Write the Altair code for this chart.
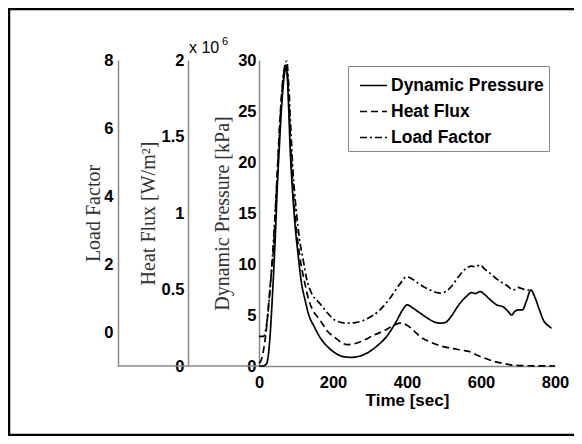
import altair as alt
import pandas as pd

# ---- data ----
dp_time = [0,10,20,25,30,35,40,45,50,55,60,65,70,73,76,80,84,90,97,106,115,125,133,150,165,185,205,230,250,270,
           291,320,345,370,390,400,415,435,455,475,490,505,520,540,560,575,585,597,610,625,642,660,672,683,690,700,
           712,722,735,745,758,770,780,791]
dp_kpa = [0,0,0.2,1.0,3.0,6.0,9.5,13.5,18,21.5,24.8,27.3,28.9,29.2,28.6,25.5,21.5,17.5,14,10.8,8.1,6.4,5.2,3.8,2.8,
          1.9,1.3,0.9,0.85,0.95,1.25,2.0,2.9,4.3,5.6,6.0,5.7,5.2,4.7,4.3,4.2,4.3,4.9,6.0,6.8,7.2,7.1,7.3,7.0,6.5,6.0,
          5.8,5.4,5.0,5.3,5.5,5.5,6.3,7.45,6.8,5.5,4.4,4.0,3.7]

hf_time = [0,5,10,15,20,27,33,39,48,57,65,72,76,80,85,92,100,110,124,135,145,165,185,205,237,260,285,309,340,360,
           381,400,420,435,460,489,525,550,570,590,615,640,660,680,705,750,800]
hf_e6 = [0.02,0.033,0.073,0.147,0.24,0.433,0.6,0.76,1.2,1.627,1.867,1.967,1.933,1.767,1.467,1.167,0.92,0.72,0.54,
         0.427,0.367,0.3,0.227,0.187,0.14,0.147,0.17,0.2,0.233,0.26,0.28,0.267,0.227,0.193,0.16,0.133,0.113,0.103,
         0.093,0.07,0.047,0.027,0.017,0.007,0.003,0.001,0.0]

lf_time = [0,12,18,25,30,36,42,50,57,63,70,75,80,85,92,100,110,120,129,140,165,190,205,237,260,290,327,355,380,399,
           415,435,460,489,505,520,540,561,575,585,597,610,624,651,670,687,700,710,723,735]
lf_g = [-0.13,-0.13,0.05,0.65,1.25,2.15,3.2,4.7,6.2,7.25,7.85,7.97,7.34,6.2,4.7,3.65,2.69,2.09,1.55,1.19,0.83,0.5,
        0.35,0.26,0.275,0.38,0.65,1.01,1.4,1.625,1.55,1.4,1.25,1.145,1.19,1.34,1.64,1.88,1.94,1.91,1.97,1.85,1.73,
        1.49,1.37,1.235,1.31,1.28,1.235,1.25]

series_names = ["Dynamic Pressure", "Heat Flux", "Load Factor"]
x_ticks = [0, 200, 400, 600, 800]
dp_ticks = [0, 5, 10, 15, 20, 25, 30]
hf_ticks = [0, 0.5, 1, 1.5, 2]
lf_ticks = [0, 2, 4, 6, 8]

df_dp = pd.DataFrame({"t": dp_time, "v": dp_kpa, "s": series_names[0]})
df_hf = pd.DataFrame({"t": hf_time, "v": hf_e6, "s": series_names[1]})
df_lf = pd.DataFrame({"t": lf_time, "v": lf_g, "s": series_names[2]})

W, H = 296, 306
LABEL_FONT = "Liberation Sans"
TITLE_FONT = "Liberation Serif"
AXIS_GRAY = "#8a8a8a"
TICK_FS = 16.5

dash_scale = alt.Scale(domain=series_names, range=[[1, 0], [7, 4], [7, 3, 2, 3]])
legend = alt.Legend(
    title=None, orient="none", legendX=89, legendY=6,
    strokeColor=AXIS_GRAY, fillColor="white", padding=5,
    symbolType="stroke", symbolSize=729, symbolStrokeWidth=1.6, symbolStrokeColor="black",
    symbolOffset=6, labelOffset=3, rowPadding=3,
    labelFont=LABEL_FONT, labelFontWeight="bold", labelFontSize=17.5, labelColor="black",
)

x_axis = alt.Axis(values=x_ticks, title="Time [sec]", titleFont=LABEL_FONT, titleFontWeight="bold",
                  titleFontSize=17, titleColor="black", titlePadding=2, labelPadding=8, labelFlush=False,
                  domainColor=AXIS_GRAY, domainWidth=1.5, ticks=False, labelFont=LABEL_FONT,
                  labelFontWeight="bold", labelFontSize=TICK_FS, labelColor="black", grid=False)
x_enc = alt.X("t:Q", scale=alt.Scale(domain=[0, 800], nice=False), axis=x_axis)


def y_axis(title, vals, offset, lpad, tpad, fmt):
    return alt.Axis(values=vals, title=title, orient="left", offset=offset, format=fmt, labelFlush=False,
                    titleFont=TITLE_FONT, titleFontWeight="normal", titleFontSize=20, titleColor="#333333",
                    titlePadding=tpad, labelPadding=lpad, domainColor=AXIS_GRAY, domainWidth=1.5, ticks=False,
                    labelFont=LABEL_FONT, labelFontWeight="bold", labelFontSize=TICK_FS, labelColor="black",
                    grid=False)


def series_line(df, ydomain, axis):
    return alt.Chart(df).mark_line(color="black", strokeWidth=1.7, interpolate="monotone").encode(
        x=x_enc,
        y=alt.Y("v:Q", scale=alt.Scale(domain=ydomain, nice=False), axis=axis),
        strokeDash=alt.StrokeDash("s:N", scale=dash_scale, legend=legend),
    )


line_dp = series_line(df_dp, [0, 30], y_axis("Dynamic Pressure [kPa]", dp_ticks, 0, 3, 5, "~g"))
line_hf = series_line(df_hf, [0, 2], y_axis("Heat Flux [W/m²]", hf_ticks, 71, 4, 3, "~g"))
line_lf = series_line(df_lf, [-1, 8], y_axis("Load Factor", lf_ticks, 141, 5, 0, "~g"))

one = pd.DataFrame({"a": [0]})
base_line = alt.Chart(one).mark_rule(color=AXIS_GRAY, strokeWidth=1.5).encode(
    x=alt.value(-141), x2=alt.value(0), y=alt.value(H),
)
exp_main = alt.Chart(one).mark_text(text="x 10", font=LABEL_FONT, fontSize=16, align="left",
                                    baseline="alphabetic", color="black").encode(x=alt.value(-70), y=alt.value(-7))
exp_sup = alt.Chart(one).mark_text(text="6", font=LABEL_FONT, fontSize=11, align="left",
                                   baseline="alphabetic", color="black").encode(x=alt.value(-37), y=alt.value(-15))
frame = alt.Chart(one).mark_rect(filled=False, stroke="black", strokeWidth=2.5).encode(
    x=alt.value(-250), x2=alt.value(340), y=alt.value(-51), y2=alt.value(375)
)

chart = alt.layer(frame, base_line, line_lf, line_hf, line_dp, exp_main, exp_sup).resolve_scale(
    y="independent"
).properties(
    width=W, height=H,
    autosize=alt.AutoSizeParams(type="none"),
    padding={"left": 251, "top": 52, "right": 19, "bottom": 70},
).configure_view(stroke=None)

chart.save("out.html", embed_options={"renderer": "svg", "actions": False})
